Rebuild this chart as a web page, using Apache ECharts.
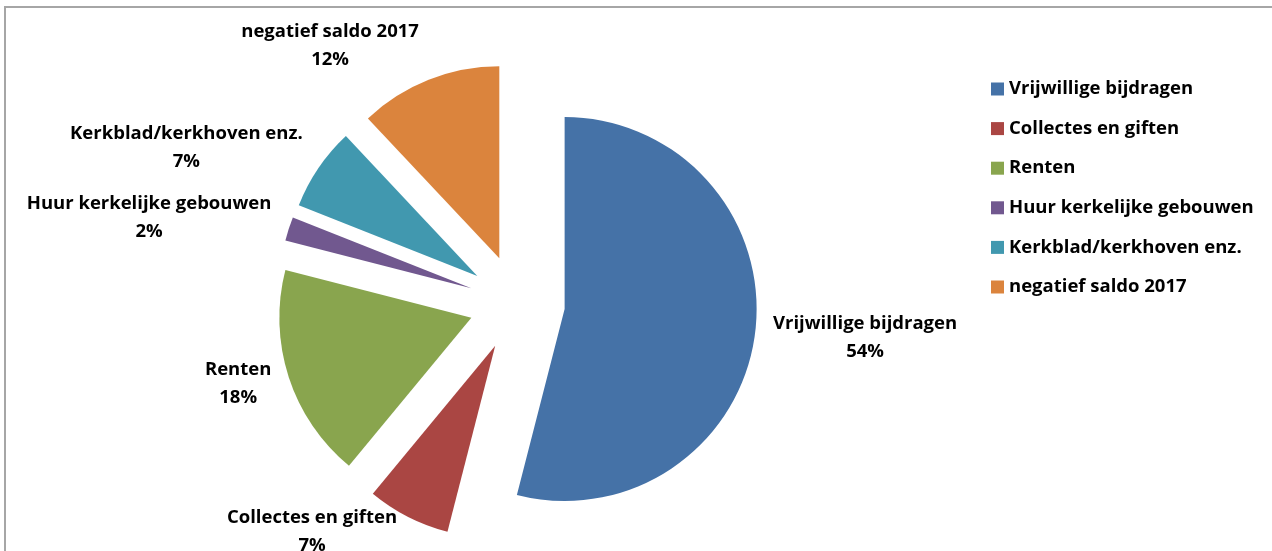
<!DOCTYPE html>
<html>
<head>
<meta charset="utf-8">
<script src="https://cdn.jsdelivr.net/npm/echarts@6/dist/echarts.min.js"></script>
<style>
  html, body { margin: 0; padding: 0; background: #fff; }
  #chart { width: 1272px; height: 551px; }
</style>
</head>
<body>
<div id="chart"></div>
<script>
const categories = [
  'Vrijwillige bijdragen',
  'Collectes en giften',
  'Renten',
  'Huur kerkelijke gebouwen',
  'Kerkblad/kerkhoven enz.',
  'negatief saldo 2017'
];
const values = [54, 7, 18, 2, 7, 12];
const colors = ['#4572A7', '#AA4643', '#89A54E', '#71588F', '#4198AF', '#DB843D'];

const FONT = '"Open Sans"';
const FONT_SIZE = 18.5;

const chart = echarts.init(document.getElementById('chart'), null, { renderer: 'canvas' });

const total = values.reduce((a, b) => a + b, 0);
// vertical component of each slice's bisector direction (screen coords, down = +)
const midDirY = [];
let cum = 0;
values.forEach(v => {
  const mid = (cum + v / 2) / total * Math.PI * 2;
  midDirY.push(-Math.cos(mid));
  cum += v;
});

const data = categories.map((name, i) => ({
  name: name,
  value: values[i],
  selected: true,
  itemStyle: { color: colors[i] }
}));

chart.setOption({
  animation: false,
  backgroundColor: '#fff',
  graphic: [{
    type: 'rect',
    shape: { x: 5, y: 7, width: 1400, height: 700 },
    style: { fill: 'none', stroke: '#a6a6a6', lineWidth: 2 },
    silent: true,
    z: -10
  }],
  legend: {
    orient: 'vertical',
    left: 986,
    top: 74,
    icon: 'rect',
    itemWidth: 13,
    itemHeight: 13,
    itemGap: 19.6,
    itemTextGap: 6,
    selectedMode: false,
    textStyle: {
      fontFamily: FONT,
      fontWeight: 'bold',
      fontSize: FONT_SIZE,
      lineHeight: 20,
      color: '#000'
    },
    data: categories
  },
  series: [{
    type: 'pie',
    center: [517, 303],
    radius: 192,
    startAngle: 90,
    clockwise: true,
    selectedMode: 'multiple',
    selectedOffset: 48,
    avoidLabelOverlap: false,
    emphasis: { disabled: true },
    select: { itemStyle: { borderWidth: 0 } },
    label: {
      show: true,
      position: 'outside',
      formatter: function (p) {
        return '{a|' + p.name + '}\n{a|' + Math.round(p.percent) + '%}';
      },
      rich: {
        a: {
          fontFamily: FONT,
          fontWeight: 'bold',
          fontSize: FONT_SIZE,
          lineHeight: 28,
          color: '#000',
          align: 'center'
        }
      }
    },
    labelLine: { show: false, length: 13, length2: 0 },
    labelLayout: function (params) {
      const dirY = midDirY[params.dataIndex];
      return { dy: dirY < 0 ? dirY * params.labelRect.height / 2 : 3 };
    },
    data: data
  }]
});
</script>
</body>
</html>
